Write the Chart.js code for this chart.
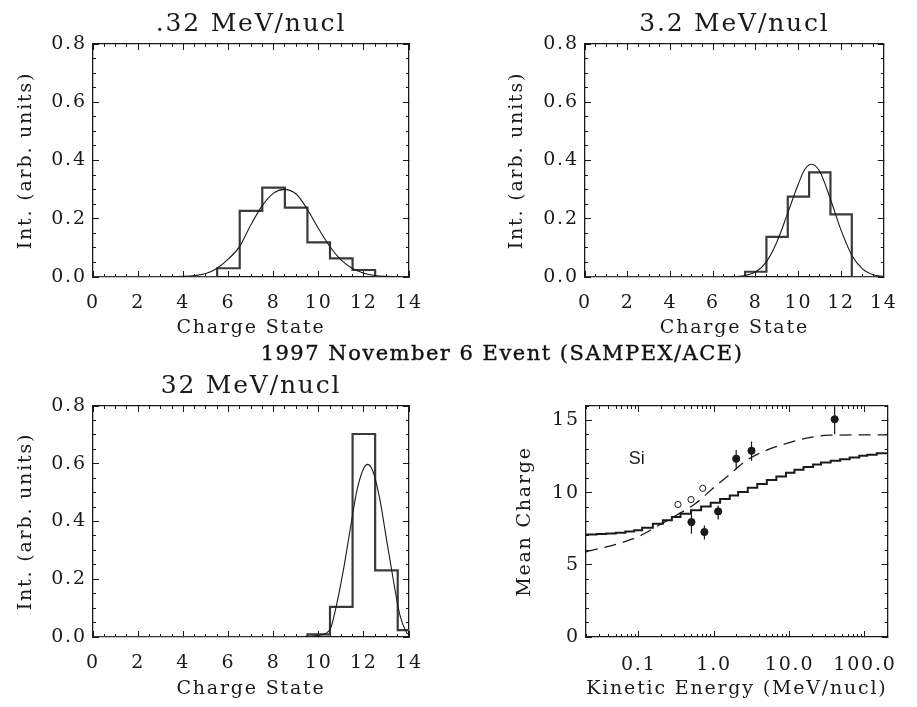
<!DOCTYPE html>
<html>
<head>
<meta charset="utf-8">
<script src="https://cdn.jsdelivr.net/npm/chart.js@4.4.1/dist/chart.umd.min.js"></script>
<style>
html,body{margin:0;padding:0;background:#fff;}
#wrap{position:relative;width:917px;height:707px;overflow:hidden;background:#fff;}
canvas{position:absolute;left:0;top:0;}
#main{position:absolute;left:202px;width:600px;top:341px;line-height:24px;text-align:center;
 font-family:"DejaVu Serif";font-size:21px;letter-spacing:1.5px;color:#111;white-space:nowrap;
 -webkit-text-stroke:0.4px #111;}
</style>
</head>
<body>
<div id="wrap">
<canvas id="c1" width="917" height="707"></canvas>
<canvas id="c2" width="917" height="707"></canvas>
<canvas id="c3" width="917" height="707"></canvas>
<canvas id="c4" width="917" height="707"></canvas>
<div id="main">1997 November 6 Event (SAMPEX/ACE)</div>
</div>
<script>
// ---------------- data ----------------
const charges = [0,1,2,3,4,5,6,7,8,9,10,11,12,13,14];
const histLow  = [0,0,0,0,0,0,0.030,0.227,0.307,0.238,0.119,0.064,0.024,0,0];   // .32 MeV/nucl
const histMid  = [0,0,0,0,0,0,0,0,0.018,0.138,0.276,0.359,0.215,0,0];           // 3.2 MeV/nucl
const histHigh = [0,0,0,0,0,0,0,0,0,0,0.009,0.104,0.703,0.231,0.024];           // 32 MeV/nucl

const fitLowX = [3,4,4.5,5,5.5,6,6.5,7,7.5,8,8.45,9,9.5,10,10.5,11,11.5,12,12.5,13,14];
const fitLowY = [0.0005,0.002,0.005,0.012,0.030,0.062,0.105,0.180,0.245,0.288,0.301,0.285,0.232,0.165,0.104,0.058,0.029,0.013,0.005,0.002,0.0];
const fitMidX = [6.5,7,7.5,8,8.5,9,9.5,10,10.3,10.62,11,11.5,12,12.5,13,13.5,14];
const fitMidY = [0.0005,0.0015,0.005,0.018,0.052,0.122,0.220,0.320,0.370,0.387,0.362,0.267,0.160,0.075,0.028,0.008,0.002];
const fitHighX = [9,9.5,10,10.5,10.8,11.1,11.4,11.7,12,12.17,12.4,12.7,13,13.3,13.6,13.9,14];
const fitHighY = [0.0,0.002,0.006,0.026,0.115,0.235,0.375,0.510,0.585,0.598,0.574,0.480,0.340,0.200,0.075,0.015,0.008];

const modelStepE = [0.02,0.0277,0.037,0.0496,0.0665,0.087,0.111,0.154,0.209,0.275,0.358,0.493,0.672,0.90,1.20,1.61,2.08,2.79,3.73,4.99,6.68,8.95,11.6,15.3,20.5,26.1,35.0,46.8,62.6,83.9,107,143,200];
const modelStepQ = [7.10,7.13,7.17,7.22,7.30,7.39,7.57,7.85,8.08,8.31,8.54,8.78,9.04,9.30,9.55,9.80,10.05,10.33,10.60,10.88,11.11,11.38,11.58,11.78,11.94,12.08,12.20,12.32,12.44,12.55,12.63,12.72,12.78];
const modelDashE = [0.02,0.054,0.097,0.174,0.312,0.56,1.0,1.63,2.65,4.75,8.51,16.9,33.3,200];
const modelDashQ = [5.90,6.47,6.93,7.66,8.42,9.23,10.37,11.29,12.21,12.90,13.36,13.77,13.98,14.0];

const filledE  = [0.50,0.743,1.13,1.96,3.13,39.6];
const filledQ  = [7.96,7.27,8.70,12.35,12.90,15.08];
const filledLo = [7.16,6.75,8.13,11.60,12.21,14.05];
const filledHi = [8.77,7.73,9.11,12.95,13.54,15.93];
const openE = [0.331,0.493,0.706];
const openQ = [9.18,9.52,10.30];

const chargeTicks = [0,2,4,6,8,10,12,14];
const chargeTickLabels = ['0','2','4','6','8','10','12','14'];
const intTicks = [0,0.2,0.4,0.6,0.8];
const intTickLabels = ['0.0','0.2','0.4','0.6','0.8'];
const meanTicks = [0,5,10,15];
const meanTickLabels = ['0','5','10','15'];
const energyTicks = [0.1,1,10,100];
const energyTickLabels = ['0.1','1.0','10.0','100.0'];
const energyMinorTicks = [0.02,0.03,0.04,0.05,0.06,0.07,0.08,0.09,0.1,0.2,0.3,0.4,0.5,0.6,0.7,0.8,0.9,1,2,3,4,5,6,7,8,9,10,20,30,40,50,60,70,80,90,100,200];
const siLabel = {text:'Si', x:0.094, y:12.35};

// ---------------- styling helpers ----------------
const INK = '#1a1a1a';
const FONT = 'DejaVu Serif';
Chart.register({id:'spacing', beforeDraw(chart){ chart.ctx.letterSpacing = '1.8px'; }});

function buildScales(c){
  const grid = len => ({drawOnChartArea:false, drawTicks:true, tickLength:len, color:INK, lineWidth:1});
  const frame = {display:true, color:INK, width:1.3};
  const hidden = {display:false};
  const fixH = h => s => { s.height = h; };
  const fixW = w => s => { s.width = w; };
  const useTicks = vals => s => { s.ticks = vals.map(v => ({value:v})); };
  const xb = {type:c.xType, min:c.xMin, max:c.xMax};
  const yb = {type:'linear', min:c.yMin, max:c.yMax};
  const tickFont = {family:FONT, size:19};
  const minorX = () => c.xMinorTicks ? {afterBuildTicks: useTicks(c.xMinorTicks), ticks:{display:false}} : {ticks:{display:false, stepSize:c.xMinorStep}};
  return {
    x: Object.assign({}, xb, {position:'bottom', weight:10, grid:grid(-6), border:frame,
      afterBuildTicks: useTicks(c.xTicks), afterFit: fixH(c.xH),
      ticks:{autoSkip:false, maxRotation:0, minRotation:0, padding:c.xTickPad, color:INK, font:tickFont,
        callback:(v,i)=>c.xLabels[i]},
      title:{display:true, text:c.xTitle, color:INK, font:{family:FONT, size:19}, padding:{top:0,bottom:0}}}),
    xMinor: Object.assign({}, xb, {position:'bottom', weight:0, grid:grid(-3), border:hidden, afterFit:fixH(0)}, minorX()),
    xTop: Object.assign({}, xb, {position:'top', weight:0, grid:grid(-6), border:frame,
      afterBuildTicks: useTicks(c.xTicks), afterFit: fixH(0), ticks:{display:false}}),
    xTopMinor: Object.assign({}, xb, {position:'top', weight:0, grid:grid(-3), border:hidden, afterFit:fixH(0)}, minorX()),
    y: Object.assign({}, yb, {position:'left', weight:10, grid:grid(-6), border:frame,
      afterBuildTicks: useTicks(c.yTicks), afterFit: fixW(c.yW),
      ticks:{autoSkip:false, padding:12.2, color:INK, font:tickFont, callback:(v,i)=>c.yLabels[i]},
      title:{display:true, text:c.yTitle, color:INK, font:{family:FONT, size:19}, padding:{top:0,bottom:0}}}),
    yMinor: Object.assign({}, yb, {position:'left', weight:0, grid:grid(-3), border:hidden, afterFit:fixW(0),
      ticks:{display:false, stepSize:c.yMinorStep}}),
    yRight: Object.assign({}, yb, {position:'right', weight:0, grid:grid(-6), border:frame,
      afterBuildTicks: useTicks(c.yTicks), afterFit: fixW(0), ticks:{display:false}}),
    yRightMinor: Object.assign({}, yb, {position:'right', weight:0, grid:grid(-3), border:hidden, afterFit:fixW(0),
      ticks:{display:false, stepSize:c.yMinorStep}})
  };
}

function pts(xs, ys){ return xs.map((x,i)=>({x:x, y:ys[i]})); }

function histPanel(id, title, hist, fx, fy, pad){
  const scales = buildScales({xType:'linear', xMin:0, xMax:14, xTicks:chargeTicks, xLabels:chargeTickLabels,
    xMinorStep:0.5, xH:pad.xH, xTickPad:21.1, xTitle:'Charge State',
    yMin:0, yMax:0.8, yTicks:intTicks, yLabels:intTickLabels, yMinorStep:0.05, yW:pad.yW, yTitle:'Int. (arb. units)'});
  return new Chart(document.getElementById(id), {
    type:'line',
    data:{datasets:[
      {data:pts(fx, fy), borderColor:INK, borderWidth:1.1, pointRadius:0, cubicInterpolationMode:'monotone', fill:false},
      {data:pts(charges, hist), stepped:'middle', borderColor:'#3a3a3a', borderWidth:2.2, pointRadius:0, fill:false}
    ]},
    options:{
      responsive:false, animation:false, devicePixelRatio:1,
      layout:{padding:{left:pad.left, right:pad.right, top:pad.top, bottom:pad.bottom}},
      plugins:{legend:{display:false}, tooltip:{enabled:false},
        title:{display:true, text:title, fullSize:false, color:INK,
          font:{family:FONT, size:25, weight:'normal', lineHeight:1.2}, padding:{top:0, bottom:5}}},
      scales:scales
    }
  });
}

histPanel('c1', '.32 MeV/nucl', histLow, fitLowX, fitLowY, {left:14.6, right:508, top:9, bottom:367.6, xH:62.4, yW:78.4});
histPanel('c2', '3.2 MeV/nucl', histMid, fitMidX, fitMidY, {left:506.1, right:16, top:9, bottom:367.6, xH:62.4, yW:78.9});
histPanel('c3', '32 MeV/nucl', histHigh, fitHighX, fitHighY, {left:14.6, right:508, top:371, bottom:6.6, xH:63.4, yW:78.4});

// ---------------- mean charge panel ----------------
const scales4 = buildScales({xType:'logarithmic', xMin:0.02, xMax:200, xTicks:energyTicks, xLabels:energyTickLabels,
  xMinorTicks:energyMinorTicks, xH:63.4, xTickPad:22.6, xTitle:'Kinetic Energy (MeV/nucl)',
  yMin:0, yMax:16, yTicks:meanTicks, yLabels:meanTickLabels, yMinorStep:1, yW:72.4, yTitle:'Mean Charge'});

const errorSets = filledE.map((e,i)=>({data:[{x:e, y:filledLo[i]},{x:e, y:filledHi[i]}],
  borderColor:INK, borderWidth:1.2, pointRadius:0, fill:false}));

new Chart(document.getElementById('c4'), {
  type:'line',
  data:{datasets:[
    {data:pts(filledE, filledQ), showLine:false, pointRadius:3.6, pointBackgroundColor:INK, pointBorderColor:INK, pointBorderWidth:1},
    {data:pts(openE, openQ), showLine:false, pointRadius:3.1, pointBackgroundColor:'#fff', pointBorderColor:INK, pointBorderWidth:1},
    ...errorSets,
    {data:pts(modelDashE, modelDashQ), borderColor:INK, borderWidth:1.3, borderDash:[12,7], pointRadius:0, cubicInterpolationMode:'monotone', fill:false},
    {data:pts(modelStepE, modelStepQ), stepped:true, borderColor:INK, borderWidth:2, pointRadius:0, fill:false}
  ]},
  options:{
    responsive:false, animation:false, devicePixelRatio:1,
    layout:{padding:{left:513.6, right:15, top:406, bottom:6.6}},
    plugins:{legend:{display:false}, tooltip:{enabled:false}, title:{display:false}},
    scales:scales4
  },
  plugins:[{id:'siLabel', afterDatasetsDraw(chart){
    const ctx = chart.ctx, sx = chart.scales.x, sy = chart.scales.y;
    ctx.save();
    ctx.letterSpacing = '0px';
    ctx.font = '18px "Liberation Sans"';
    ctx.fillStyle = INK; ctx.textAlign = 'center'; ctx.textBaseline = 'middle';
    ctx.fillText(siLabel.text, sx.getPixelForValue(siLabel.x), sy.getPixelForValue(siLabel.y));
    ctx.restore();
  }}]
});
</script>
</body>
</html>
